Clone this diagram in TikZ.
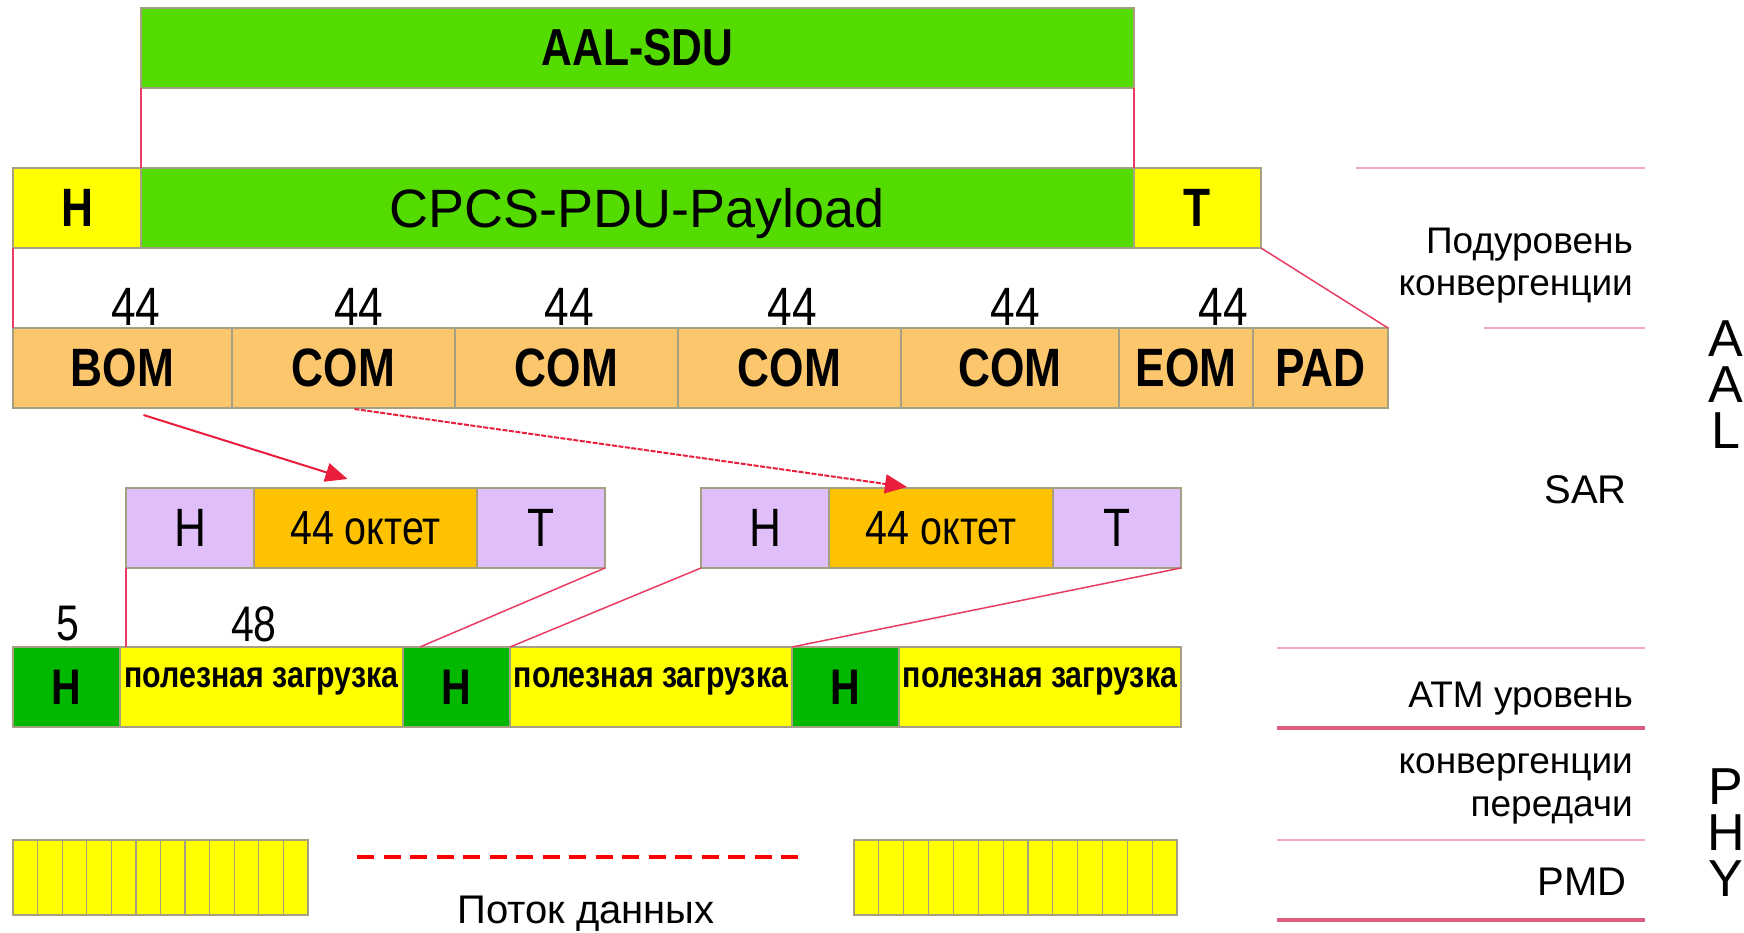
\documentclass[tikz,border=0pt]{standalone}
\usepackage{fontspec}
\setmainfont{Liberation Sans}
\newfontfamily\narrowfont[FakeStretch=0.82]{Liberation Sans}
\usetikzlibrary{arrows.meta,positioning,calc}
\definecolor{sducol}{RGB}{84,220,0}
\definecolor{hdrcol}{RGB}{255,255,0}
\definecolor{segcol}{RGB}{252,198,108}
\definecolor{sarcol}{RGB}{224,190,250}
\definecolor{octcol}{RGB}{255,194,0}
\definecolor{cellhcol}{RGB}{0,184,0}
\definecolor{boxline}{RGB}{165,160,130}
\definecolor{linkcol}{RGB}{232,60,100}
\definecolor{arrcol}{RGB}{232,30,60}
\definecolor{rulecol}{RGB}{244,168,188}
\definecolor{rulecold}{RGB}{222,96,128}

\begin{document}
\begin{tikzpicture}[
    x=1pt, y=-1pt,
    cell/.style={draw=boxline, line width=1.5pt, anchor=north west, inner sep=0pt, outer sep=0pt, minimum height=80pt},
    hbold/.style={font={\narrowfont\bfseries\fontsize{54pt}{60pt}\selectfont}},
    hreg/.style={font={\narrowfont\fontsize{54pt}{60pt}\selectfont}},
    num/.style={inner sep=0pt, font={\narrowfont\fontsize{54pt}{60pt}\selectfont}},
    load/.style={font={\narrowfont\bfseries\fontsize{37pt}{40pt}\selectfont}, text height=14pt, text depth=14pt},
    layer/.style={anchor=base east, inner sep=0pt, font={\fontsize{37pt}{40pt}\selectfont}},
    side/.style={inner sep=0pt, font={\fontsize{52pt}{46pt}\selectfont}},
    link/.style={draw=linkcol, line width=1.5pt},
    arrow/.style={-{Triangle[length=22pt,width=19pt]}, draw=arrcol, line width=2pt},
    rule/.style={draw=rulecol, line width=2pt},
    rulebold/.style={draw=rulecold, line width=3.5pt},
    bar/.style={cell, fill=hdrcol, minimum height=75pt},
    stripe/.style={draw=boxline, line width=1.2pt},
    flow/.style={draw=red, line width=4pt, dash pattern=on 17pt off 9.5pt},
]
\useasboundingbox (0,0) rectangle (1744,933);

% AAL-SDU and CPCS-PDU
\node[cell, fill=sducol, minimum width=993pt, font={\narrowfont\bfseries\fontsize{52pt}{60pt}\selectfont}] (sdu) at (141,8) {AAL-SDU};
\node[cell, fill=hdrcol, minimum width=128pt, hbold] (cpcsH) at (13,168) {H};
\node[cell, fill=sducol, minimum width=993pt, font={\fontsize{54pt}{60pt}\selectfont}, text depth=0pt, right=0pt of cpcsH] (cpcsP) {CPCS-PDU-Payload};
\node[cell, fill=hdrcol, minimum width=127pt, hbold, right=0pt of cpcsP] (cpcsT) {T};

% segments
\node[cell, fill=segcol, minimum width=219pt, hbold] (bom) at (13,328) {BOM};
\node[cell, fill=segcol, minimum width=223pt, hbold, right=0pt of bom] (com1) {COM};
\node[cell, fill=segcol, minimum width=223pt, hbold, right=0pt of com1] (com2) {COM};
\node[cell, fill=segcol, minimum width=223pt, hbold, right=0pt of com2] (com3) {COM};
\node[cell, fill=segcol, minimum width=218pt, hbold, right=0pt of com3] (com4) {COM};
\node[cell, fill=segcol, minimum width=134pt, hbold, right=0pt of com4] (eom) {EOM};
\node[cell, fill=segcol, minimum width=135pt, hbold, right=0pt of eom] (pad) {PAD};

\node[num] (len1) at (136,307) {44};
\node[num] (len2) at (359,307) {44};
\node[num] (len3) at (569,307) {44};
\node[num] (len4) at (792,307) {44};
\node[num] (len5) at (1015,307) {44};
\node[num] (len6) at (1223,307) {44};

% SAR-PDU
\node[cell, fill=sarcol, minimum width=128pt, hreg] (sarH1) at (126,488) {H};
\node[cell, fill=octcol, minimum width=223pt, font={\narrowfont\fontsize{48pt}{56pt}\selectfont}, right=0pt of sarH1] (oct1) {44 октет};
\node[cell, fill=sarcol, minimum width=128pt, hreg, right=0pt of oct1] (sarT1) {T};
\node[cell, fill=sarcol, minimum width=128pt, hreg] (sarH2) at (701,488) {H};
\node[cell, fill=octcol, minimum width=224pt, font={\narrowfont\fontsize{48pt}{56pt}\selectfont}, right=0pt of sarH2] (oct2) {44 октет};
\node[cell, fill=sarcol, minimum width=128pt, hreg, right=0pt of oct2] (sarT2) {T};

% ATM cells
\node[cell, fill=cellhcol, minimum width=107pt, font={\narrowfont\bfseries\fontsize{50pt}{56pt}\selectfont}] (atmH1) at (13,647) {H};
\node[cell, fill=hdrcol, minimum width=283pt, load, right=0pt of atmH1] (atmP1) {полезная загрузка};
\node[cell, fill=cellhcol, minimum width=107pt, font={\narrowfont\bfseries\fontsize{50pt}{56pt}\selectfont}, right=0pt of atmP1] (atmH2) {H};
\node[cell, fill=hdrcol, minimum width=282pt, load, right=0pt of atmH2] (atmP2) {полезная загрузка};
\node[cell, fill=cellhcol, minimum width=107pt, font={\narrowfont\bfseries\fontsize{50pt}{56pt}\selectfont}, right=0pt of atmP2] (atmH3) {H};
\node[cell, fill=hdrcol, minimum width=282pt, load, right=0pt of atmH3] (atmP3) {полезная загрузка};

\node[num, font={\narrowfont\fontsize{50pt}{56pt}\selectfont}] (hlen) at (68,624) {5};
\node[num, font={\narrowfont\fontsize{50pt}{56pt}\selectfont}] (plen) at (254,624) {48};

% links
\draw[link] (sdu.south west) -- (cpcsP.north west);
\draw[link] (sdu.south east) -- (cpcsP.north east);
\draw[link] (cpcsH.south west) -- (bom.north west);
\draw[link] (cpcsT.south east) -- (pad.north east);
\draw[arrow] ([xshift=21pt,yshift=-7pt]bom.south) -- ([xshift=-18pt,yshift=9pt]oct1.north);
\draw[arrow, dash pattern=on 5pt off 1.5pt] ([xshift=11pt,yshift=-1pt]com1.south) -- ([xshift=-34pt,yshift=1pt]oct2.north);
\draw[link] (sarH1.south west) -- (sarH1.south west |- atmP1.north);
\draw[link] (sarT1.south east) -- ([xshift=17pt]atmH2.north west);
\draw[link] (sarH2.south west) -- (atmP2.north west);
\draw[link] (sarT2.south east) -- (atmH3.north west);

% physical stream
\node[bar, minimum width=295pt] (flowL) at (13,840) {};
\node[bar, minimum width=323pt] (flowR) at (854,840) {};
\foreach \i in {1,...,11}
  \draw[stripe] ($(flowL.north west)+(\i*24.58,0)$) -- ($(flowL.south west)+(\i*24.58,0)$);
\foreach \i in {1,...,12}
  \draw[stripe] ($(flowR.north west)+(\i*24.85,0)$) -- ($(flowR.south west)+(\i*24.85,0)$);
\draw[flow] ([xshift=49pt,yshift=21pt]flowL.east) -- ([xshift=-47pt,yshift=21pt]flowR.west);
\node[anchor=base, inner sep=0pt, font={\fontsize{40pt}{44pt}\selectfont}] (flowtxt) at (586,923) {Поток данных};

% layers
\draw[rule] (1356,168) -- (1645,168);
\draw[rule] (1484,328) -- (1645,328);
\draw[rule] (1277,648) -- (1645,648);
\draw[rulebold] (1277,728) -- (1645,728);
\draw[rule] (1277,840) -- (1645,840);
\draw[rulebold] (1277,920) -- (1645,920);
\node[layer] (cs1) at (1633,254) {Подуровень};
\node[layer] (cs2) at (1633,295) {конвергенции};
\node[layer, font={\fontsize{40pt}{44pt}\selectfont}] (sar) at (1627,503) {SAR};
\node[layer] (atm) at (1633,707) {ATM уровень};
\node[layer] (tc1) at (1633,773) {конвергенции};
\node[layer] (tc2) at (1633,816) {передачи};
\node[layer, font={\fontsize{40pt}{44pt}\selectfont}] (pmd) at (1627,895) {PMD};
\node[side] (aal1) at (1726,339) {A};
\node[side] (aal2) at (1726,385) {A};
\node[side] (aal3) at (1726,431) {L};
\node[side] (phy1) at (1726,787) {P};
\node[side] (phy2) at (1726,833) {H};
\node[side] (phy3) at (1726,879) {Y};
\end{tikzpicture}
\end{document}
